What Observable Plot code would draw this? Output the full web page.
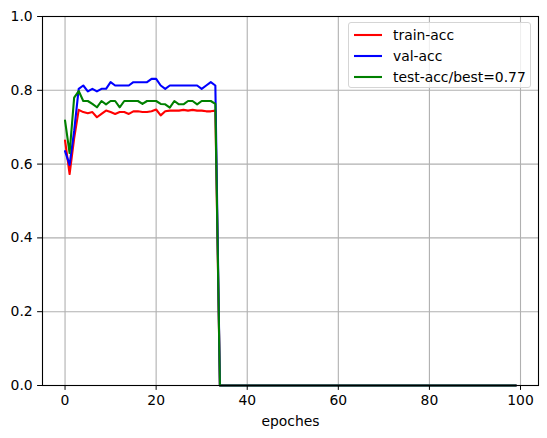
<!DOCTYPE html>
<html>
<head>
<meta charset="utf-8">
<script src="https://cdn.jsdelivr.net/npm/d3@7"></script>
<script src="https://cdn.jsdelivr.net/npm/@observablehq/plot@0.6"></script>
<style>
  html, body { margin: 0; padding: 0; background: white; }
  #wrap { position: relative; width: 547px; height: 438px; }
  #legend {
    position: absolute; left: 348px; top: 22px; width: 181px; height: 64px;
    border: 1px solid #d5d5d5; border-radius: 3px; background: rgba(255,255,255,0.8);
    font-family: "DejaVu Sans", sans-serif; font-size: 13.9px; color: #000;
  }
  .row { position: absolute; left: 0; height: 18px; display: flex; align-items: center; }
  .row svg { margin-left: 5px; margin-right: 11px; }
</style>
</head>
<body>
<div id="wrap"></div>
<script>
const epochs = [0,1,2,3,4,5,6,7,8,9,10,11,12,13,14,15,16,17,18,19,20,21,22,23,24,25,26,27,28,29,30,31,32,33,34,35,36,37,38,39,40,41,42,43,44,45,46,47,48,49,50,51,52,53,54,55,56,57,58,59,60,61,62,63,64,65,66,67,68,69,70,71,72,73,74,75,76,77,78,79,80,81,82,83,84,85,86,87,88,89,90,91,92,93,94,95,96,97,98,99];
const trainAcc = [0.664,0.573,0.67,0.747,0.741,0.738,0.741,0.727,0.736,0.745,0.741,0.736,0.741,0.741,0.736,0.743,0.743,0.741,0.741,0.743,0.748,0.732,0.743,0.745,0.745,0.745,0.747,0.745,0.747,0.745,0.745,0.743,0.743,0.745,
  0,0,0,0,0,0,0,0,0,0,0,0,0,0,0,0,0,0,0,0,0,0,0,0,0,0,0,0,0,0,0,0,0,0,0,0,0,0,0,0,0,0,0,0,0,0,0,0,0,0,0,0,0,0,0,0,0,0,0,0,0,0,0,0,0,0];
const valAcc = [0.635,0.598,0.69,0.804,0.813,0.797,0.804,0.797,0.804,0.804,0.822,0.813,0.813,0.813,0.813,0.822,0.822,0.822,0.822,0.831,0.831,0.813,0.804,0.813,0.813,0.813,0.813,0.813,0.813,0.813,0.804,0.813,0.822,0.813,
  0,0,0,0,0,0,0,0,0,0,0,0,0,0,0,0,0,0,0,0,0,0,0,0,0,0,0,0,0,0,0,0,0,0,0,0,0,0,0,0,0,0,0,0,0,0,0,0,0,0,0,0,0,0,0,0,0,0,0,0,0,0,0,0,0,0];
const testAcc = [0.718,0.63,0.78,0.798,0.771,0.771,0.763,0.754,0.771,0.762,0.771,0.771,0.754,0.771,0.771,0.771,0.771,0.763,0.771,0.771,0.771,0.763,0.762,0.753,0.771,0.762,0.762,0.771,0.771,0.762,0.771,0.771,0.771,0.763,
  0,0,0,0,0,0,0,0,0,0,0,0,0,0,0,0,0,0,0,0,0,0,0,0,0,0,0,0,0,0,0,0,0,0,0,0,0,0,0,0,0,0,0,0,0,0,0,0,0,0,0,0,0,0,0,0,0,0,0,0,0,0,0,0,0,0];
const seriesNames = ["train-acc", "val-acc", "test-acc/best=0.77"];
const seriesColors = ["#ff0000", "#0000ff", "#008000"];
const xTicks = [0, 20, 40, 60, 80, 100];
const yTicks = [0.0, 0.2, 0.4, 0.6, 0.8, 1.0];
const xLabel = "epoches";

const allSeries = [trainAcc, valAcc, testAcc];
const rows = [];
allSeries.forEach((vals, s) => {
  vals.forEach((v, i) => rows.push({epoch: epochs[i], acc: v, series: seriesNames[s]}));
});

const chart = Plot.plot({
  width: 547, height: 438,
  marginLeft: 42, marginRight: 9, marginTop: 16, marginBottom: 53,
  style: {fontFamily: "'DejaVu Sans', sans-serif", fontSize: "13.9px", background: "white", color: "black", overflow: "visible"},
  x: {domain: [-4.95, 103.95]},
  y: {domain: [0, 1]},
  color: {domain: seriesNames, range: seriesColors},
  marks: [
    Plot.gridX(xTicks, {stroke: "#b0b0b0", strokeOpacity: 1, strokeWidth: 1.1}),
    Plot.gridY(yTicks, {stroke: "#b0b0b0", strokeOpacity: 1, strokeWidth: 1.1}),
    Plot.line(rows, {x: "epoch", y: "acc", z: "series", stroke: "series", strokeWidth: 2.1}),
    Plot.frame({stroke: "black", strokeWidth: 1.1}),
    Plot.axisX(xTicks, {tickSize: 4.9, tickPadding: 4.9, tickFormat: d => String(d), label: xLabel, labelAnchor: "center", labelArrow: "none", labelOffset: 40, fontSize: 13.9}),
    Plot.axisY(yTicks, {tickSize: 4.9, tickPadding: 4.9, tickFormat: d3.format(".1f"), label: null, fontSize: 13.9})
  ]
});
const wrap = document.getElementById("wrap");
wrap.appendChild(chart);

const legend = document.createElement("div");
legend.id = "legend";
seriesNames.forEach((name, i) => {
  const row = document.createElement("div");
  row.className = "row";
  row.style.top = (3 + i * 21) + "px";
  row.innerHTML = `<svg width="28" height="4"><line x1="0" y1="2" x2="28" y2="2" stroke="${seriesColors[i]}" stroke-width="2.1"/></svg><span>${name}</span>`;
  legend.appendChild(row);
});
wrap.appendChild(legend);
</script>
</body>
</html>
